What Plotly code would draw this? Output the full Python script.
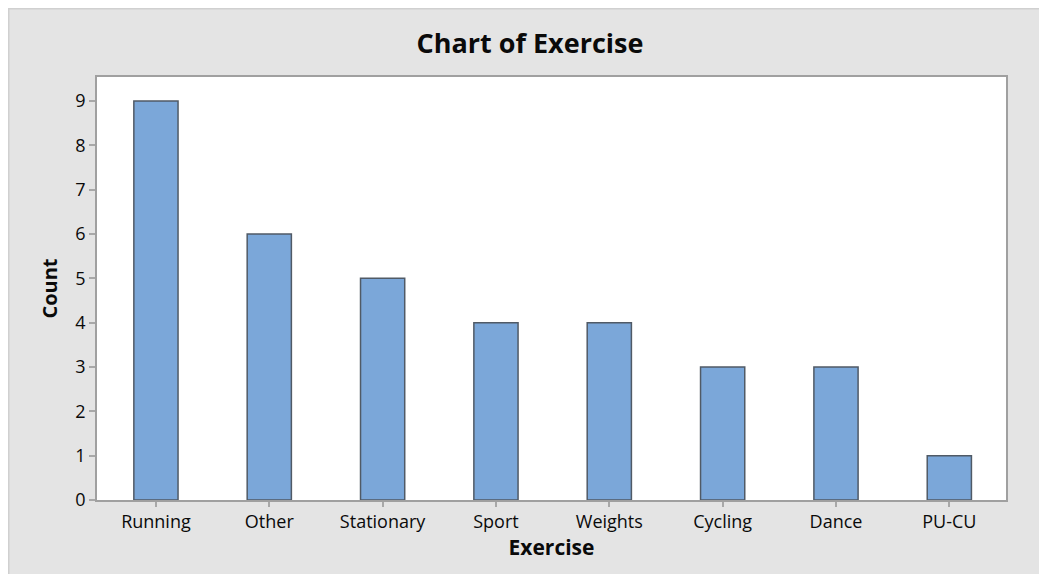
import plotly.graph_objects as go

categories = ["Running", "Other", "Stationary", "Sport", "Weights", "Cycling", "Dance", "PU-CU"]
counts = [9, 6, 5, 4, 4, 3, 3, 1]
y_ticks = [0, 1, 2, 3, 4, 5, 6, 7, 8, 9]

# page body has an 8px margin, so the figure starts at (8, 8)
W, H = 1039, 566
ml, mr, mt, mb = 89, 41, 69, 74

fig = go.Figure()
fig.add_trace(go.Bar(
    x=categories, y=counts, width=0.39,
    marker=dict(color="#7ba7d9", line=dict(color="#505a66", width=1.5)),
    hoverinfo="x+y",
))

fnt = "Open Sans, Noto Sans, sans-serif"
txt = "#0a0a0a"
fig.update_layout(
    width=W, height=H,
    margin=dict(l=ml, r=mr, t=mt, b=mb),
    paper_bgcolor="#e4e4e4",
    plot_bgcolor="white",
    showlegend=False,
    font=dict(family=fnt, color=txt),
    title=dict(text="<b>Chart of Exercise</b>", font=dict(size=27, family=fnt, color=txt),
               x=522 / W, xref="container", xanchor="center",
               y=1 - 36 / H, yref="container", yanchor="middle"),
    xaxis=dict(
        range=[-0.52, 7.5], showline=True, linecolor="#a0a0a0", linewidth=1.5, mirror=True,
        ticks="outside", ticklen=5, tickcolor="#a8a8a8", tickwidth=1.5,
        tickfont=dict(size=18, family=fnt, color=txt),
        showgrid=False, zeroline=False,
        title=dict(text="<b>Exercise</b>", font=dict(size=21, family=fnt, color=txt), standoff=0),
    ),
    yaxis=dict(
        range=[0, 9.54], tickvals=y_ticks, showline=True, linecolor="#a0a0a0", linewidth=1.5, mirror=True,
        ticks="outside", ticklen=6, tickcolor="#a8a8a8", tickwidth=1.5,
        tickfont=dict(size=18, family=fnt, color=txt),
        showgrid=False, zeroline=False,
        title=dict(text="<b>Count</b>", font=dict(size=20, family=fnt, color=txt), standoff=12),
    ),
    shapes=[dict(type="path", xref="paper", yref="paper", layer="above",
                 path="M %f,%f L %f,%f L %f,%f" % (
                     (0.5 - ml) / (W - ml - mr), -0.3,
                     (0.5 - ml) / (W - ml - mr), (H - mb - 0.5) / (H - mt - mb),
                     1.2, (H - mb - 0.5) / (H - mt - mb)),
                 line=dict(color="#d0d0d0", width=2))],
)

fig.write_html("out.html")
